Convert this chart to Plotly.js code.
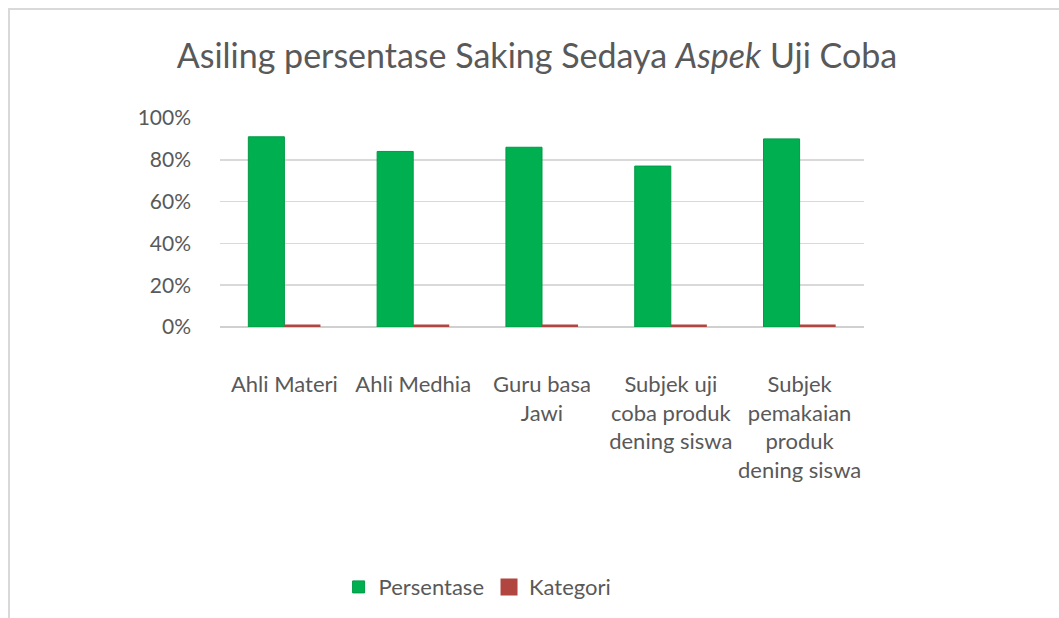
<!DOCTYPE html>
<html>
<head>
<meta charset="utf-8">
<script src="https://cdn.plot.ly/plotly-3.0.1.min.js"></script>
<style>
  html, body { margin: 0; padding: 0; background: #ffffff; }
  #wrap { position: relative; width: 1059px; height: 618px; overflow: hidden; }
  #chart { position: absolute; left: 0; top: 0; width: 1059px; height: 618px; }
  #frame { position: absolute; left: 8px; top: 8px; width: 1100px; height: 700px;
           border-left: 2px solid #d9d9d9; border-top: 2px solid #d9d9d9; pointer-events: none; }
</style>
</head>
<body>
<div id="wrap">
  <div id="chart"></div>
  <div id="frame"></div>
</div>
<script>
// Data
const categories = [
  "Ahli Materi",
  "Ahli Medhia",
  "Guru basa<br>Jawi",
  "Subjek uji<br>coba produk<br>dening siswa",
  "Subjek<br>pemakaian<br>produk<br>dening siswa"
];
const persentase = [0.91, 0.84, 0.86, 0.77, 0.90];
const kategori = [0, 0, 0, 0, 0];
const yTickVals = [0, 0.2, 0.4, 0.6, 0.8, 1.0];
const yTickText = ["0%", "20%", "40%", "60%", "80%", "100%"];

const FONT = "Lato, 'Open Sans', sans-serif";
const GREY = "#595959";

const traces = [
  {
    type: "bar",
    name: "Persentase",
    x: categories,
    y: persentase,
    marker: { color: "#00b050", line: { color: "#009a45", width: 1 } },
    hoverinfo: "x+y"
  },
  {
    type: "bar",
    name: "Kategori",
    x: categories,
    y: kategori,
    marker: { color: "#b0463f", line: { color: "#b0463f", width: 5 } },
    hoverinfo: "x+y"
  }
];

const layout = {
  width: 1059,
  height: 618,
  paper_bgcolor: "#ffffff",
  plot_bgcolor: "#ffffff",
  margin: { l: 220, r: 195, t: 118, b: 291 },
  barmode: "group",
  bargap: 0.44,
  bargroupgap: 0,
  title: {
    text: "Asiling persentase Saking Sedaya <i>Aspek</i> Uji Coba",
    font: { family: FONT, size: 34, color: GREY },
    x: 0.507, xanchor: "center",
    y: 0.91, yanchor: "middle", yref: "container"
  },
  xaxis: {
    type: "category",
    showgrid: false,
    showline: false,
    zeroline: false,
    ticks: "",
    ticklabelstandoff: 42,
    tickfont: { family: FONT, size: 22, color: GREY },
    tickangle: 0
  },
  yaxis: {
    range: [0, 1.0],
    tickvals: yTickVals,
    ticktext: yTickText,
    showgrid: true,
    gridcolor: "#d9d9d9",
    gridwidth: 1.5,
    zeroline: true,
    zerolinecolor: "#d0d0d0",
    zerolinewidth: 1.5,
    showline: false,
    ticks: "",
    ticklabelstandoff: 28,
    tickfont: { family: FONT, size: 21, color: GREY }
  },
  legend: {
    orientation: "h",
    x: 0.4, xanchor: "center", xref: "paper",
    y: 0.05, yref: "container", yanchor: "middle",
    font: { family: FONT, size: 22, color: GREY },
    itemwidth: 30,
    traceorder: "normal"
  },
  showlegend: true
};

Plotly.newPlot("chart", traces, layout, { displayModeBar: false, staticPlot: true });
</script>
</body>
</html>
